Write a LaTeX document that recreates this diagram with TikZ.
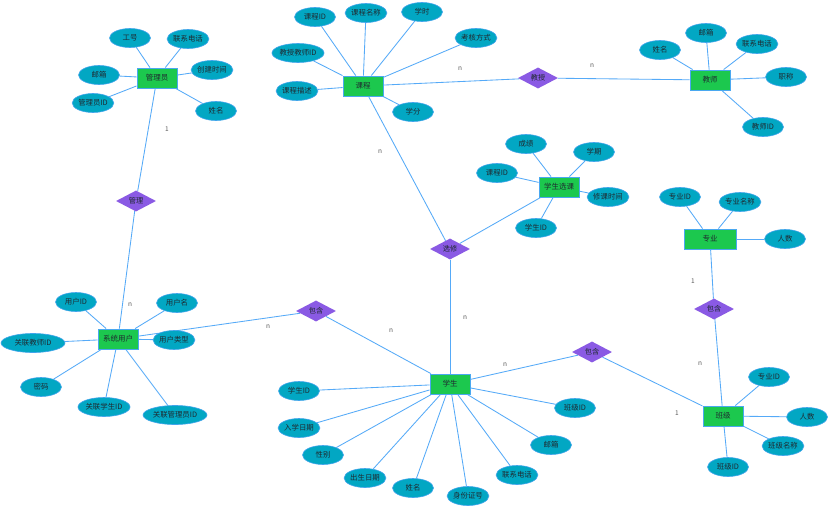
\documentclass[tikz,border=0pt]{standalone}
\usepackage{fontspec}
\setmainfont{Noto Sans CJK SC}
\usetikzlibrary{shapes.geometric}
\pgfdeclarelayer{backdrop}
\pgfdeclarelayer{background}
\pgfsetlayers{backdrop,background,main}
\definecolor{entfill}{HTML}{1CC84E}
\definecolor{entdraw}{HTML}{4AA8F0}
\definecolor{attfill}{HTML}{02A7C3}
\definecolor{attdraw}{HTML}{40A4EC}
\definecolor{relfill}{HTML}{8A5AE4}
\definecolor{linec}{HTML}{55AAF8}
\definecolor{txt}{HTML}{1F2A30}
\begin{document}
\begin{tikzpicture}[x=1pt,y=-1pt,
  ent/.style={rectangle, draw=entdraw, line width=0.9pt, fill=entfill, minimum width=40pt, minimum height=20pt, inner sep=0pt, font=\fontsize{7.5}{8}\selectfont, text=txt},
  att/.style={ellipse, draw=attdraw, line width=0.6pt, fill=attfill, minimum width=41pt, minimum height=19pt, inner sep=0pt, font=\fontsize{7.4}{8}\selectfont, text=txt},
  rel/.style={diamond, fill=relfill, minimum width=40pt, minimum height=21pt, inner sep=0pt, aspect=2, font=\fontsize{7.2}{8}\selectfont, text=txt},
  lbl/.style={font=\fontsize{6.5}{7}\selectfont, text=black!65},
  con/.style={draw=linec, line width=0.85pt}]
\begin{pgfonlayer}{backdrop}
\fill[white] (0,0) rectangle (829,506);
\end{pgfonlayer}
\useasboundingbox (0,0) rectangle (829,506);
% entities
\node[ent] (gly) at (157,78) {管理员};
\node[ent] (kc) at (363,86) {课程};
\node[ent] (js) at (710,80) {教师};
\node[ent] (xsxk) at (559,187) {学生选课};
\node[ent, minimum width=52pt] (zy) at (710,239) {专业};
\node[ent] (xtyh) at (118,339) {系统用户};
\node[ent] (xs) at (450,384) {学生};
\node[ent] (bj) at (723,416) {班级};
% relationships
\node[rel] (gl) at (136,201) {管理};
\node[rel] (jsh) at (538,78) {教授};
\node[rel] (xx) at (450,249) {选修};
\node[rel] (bh1) at (316,311) {包含};
\node[rel] (bh2) at (592,352) {包含};
\node[rel] (bh3) at (714,309) {包含};
% attributes of 管理员
\node[att] (g1) at (130,38) {工号};
\node[att] (g2) at (188,39) {联系电话};
\node[att] (g3) at (212,70) {创建时间};
\node[att] (g4) at (99,75) {邮箱};
\node[att] (g5) at (93,103) {管理员ID};
\node[att] (g6) at (216,111) {姓名};
% attributes of 课程
\node[att] (k1) at (315,17) {课程ID};
\node[att] (k2) at (366,13) {课程名称};
\node[att] (k3) at (422,12) {学时};
\node[att] (k4) at (476,38) {考核方式};
\node[att, minimum width=52pt] (k5) at (298,53) {教授教师ID};
\node[att] (k6) at (297,91) {课程描述};
\node[att] (k7) at (413,112) {学分};
% attributes of 教师
\node[att] (t1) at (660,50) {姓名};
\node[att] (t2) at (706,33) {邮箱};
\node[att] (t3) at (757,44) {联系电话};
\node[att] (t4) at (786,77) {职称};
\node[att] (t5) at (763,127) {教师ID};
% attributes of 学生选课
\node[att] (c1) at (526,144) {成绩};
\node[att] (c2) at (594,152) {学期};
\node[att] (c3) at (497,173) {课程ID};
\node[att] (c4) at (608,197) {修课时间};
\node[att] (c5) at (536,228) {学生ID};
% attributes of 专业
\node[att] (z1) at (680,197) {专业ID};
\node[att] (z2) at (740,202) {专业名称};
\node[att] (z3) at (785,239) {人数};
% attributes of 系统用户
\node[att] (u1) at (76,302) {用户ID};
\node[att] (u2) at (177,303) {用户名};
\node[att, minimum width=64pt] (u3) at (33,343) {关联教师ID};
\node[att] (u4) at (174,340) {用户类型};
\node[att] (u5) at (41,387) {密码};
\node[att, minimum width=51pt] (u6) at (104,407) {关联学生ID};
\node[att, minimum width=64pt] (u7) at (175,415) {关联管理员ID};
% attributes of 学生
\node[att] (s1) at (299,391) {学生ID};
\node[att] (s2) at (299,428) {入学日期};
\node[att] (s3) at (323,455) {性别};
\node[att] (s4) at (365,478) {出生日期};
\node[att] (s5) at (413,488) {姓名};
\node[att] (s6) at (468,496) {身份证号};
\node[att] (s7) at (517,475) {联系电话};
\node[att] (s8) at (551,445) {邮箱};
\node[att] (s9) at (575,408) {班级ID};
% attributes of 班级
\node[att] (b1) at (769,377) {专业ID};
\node[att] (b2) at (807,417) {人数};
\node[att] (b3) at (783,446) {班级名称};
\node[att] (b4) at (728,467) {班级ID};
% cardinality labels
\node[lbl] (n1) at (167,129) {1};
\node[lbl] (n2) at (130,305) {n};
\node[lbl] (n3) at (460,69) {n};
\node[lbl] (n4) at (592,66) {n};
\node[lbl] (n5) at (380,152) {n};
\node[lbl] (n6) at (465,318) {n};
\node[lbl] (n7) at (268,327) {n};
\node[lbl] (n8) at (391,331) {n};
\node[lbl] (n9) at (505,365) {n};
\node[lbl] (n10) at (693,281) {1};
\node[lbl] (n11) at (700,364) {n};
\node[lbl] (n12) at (677,413) {1};
% connectors
\begin{pgfonlayer}{background}
\foreach \a in {g1,g2,g3,g4,g5,g6} \draw[con] (\a) -- (gly);
\foreach \a in {k1,k2,k3,k4,k5,k6,k7} \draw[con] (\a) -- (kc);
\foreach \a in {t1,t2,t3,t4,t5} \draw[con] (\a) -- (js);
\foreach \a in {c1,c2,c3,c4,c5} \draw[con] (\a) -- (xsxk);
\foreach \a in {z1,z2,z3} \draw[con] (\a) -- (zy);
\foreach \a in {u1,u2,u3,u4,u5,u6,u7} \draw[con] (\a) -- (xtyh);
\foreach \a in {s1,s2,s3,s4,s5,s6,s7,s8,s9} \draw[con] (\a) -- (xs);
\foreach \a in {b1,b2,b3,b4} \draw[con] (\a) -- (bj);
\draw[con] (gly) -- (gl);
\draw[con] (gl) -- (xtyh);
\draw[con] (kc) -- (jsh);
\draw[con] (jsh) -- (js);
\draw[con] (kc) -- (xx);
\draw[con] (xx) -- (xs);
\draw[con] (xx) -- (xsxk);
\draw[con] (xtyh) -- (bh1);
\draw[con] (bh1) -- (xs);
\draw[con] (xs) -- (bh2);
\draw[con] (bh2) -- (bj);
\draw[con] (zy) -- (bh3);
\draw[con] (bh3) -- (bj);
\end{pgfonlayer}
\end{tikzpicture}
\end{document}
